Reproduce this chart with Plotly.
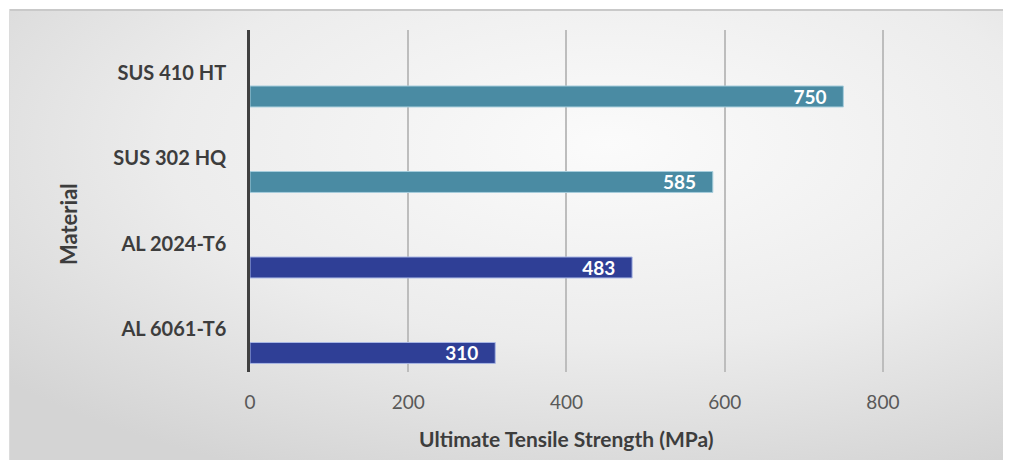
import base64
import plotly.graph_objects as go

# ---- data ----
materials = ["AL 6061-T6", "AL 2024-T6", "SUS 302 HQ", "SUS 410 HT"]
strength_mpa = [310, 483, 585, 750]
bar_colors = ["#2f3f96", "#2f3f96", "#4a8ba3", "#4a8ba3"]
bar_edge_colors = ["#a8b6e4", "#a8b6e4", "#a6cddc", "#a6cddc"]
x_ticks = [0, 200, 400, 600, 800]
x_title = "Ultimate Tensile Strength (MPa)"
y_title = "Material"

# ---- layout geometry (figure coords; page adds an 8px body margin) ----
OFF = 8
W, H = 1000, 452
ML, MR, MT, MB = 250 - OFF, 46, 30 - OFF, 88
PW = W - ML - MR
PH = H - MT - MB

def px_to_paper_x(px):
    # px given in screen coordinates
    return (px - OFF - ML) / PW

def px_to_paper_y(py):
    return (H - MB - (py - OFF)) / PH

FONT = "Lato, 'Open Sans', sans-serif"
TXT = "#3d3d3d"

fig = go.Figure()
fig.add_trace(go.Bar(
    x=strength_mpa,
    y=materials,
    orientation="h",
    width=0.245,
    offset=-0.40,
    marker=dict(color=bar_colors, line=dict(color=bar_edge_colors, width=1)),
    text=strength_mpa,
    texttemplate="%{x}\u00a0\u00a0\u00a0",
    textposition="inside",
    insidetextanchor="end",
    constraintext="none",
    textfont=dict(family=FONT, size=19, color="white", weight="bold"),
    showlegend=False,
    hoverinfo="x+y",
))

# background gradient (decoration), screen coords
bx0, by0, bx1, by1 = 9, 9, 1008, 460
bw, bh = bx1 - bx0, by1 - by0
svg = (
    f"<svg xmlns='http://www.w3.org/2000/svg' width='{bw}' height='{bh}' preserveAspectRatio='none'>"
    "<defs><radialGradient id='g' cx='0.6' cy='0.3' r='0.8'>"
    "<stop offset='0' stop-color='#fbfbfb'/>"
    "<stop offset='0.55' stop-color='#ececec'/>"
    "<stop offset='1' stop-color='#d4d4d4'/>"
    "</radialGradient></defs>"
    f"<rect width='{bw}' height='{bh}' fill='url(#g)'/>"
    f"<rect width='{bw}' height='2' fill='#c9c9c9'/>"
    f"<rect width='1' height='{bh}' fill='#dcdcdc'/>"
    "</svg>"
)
src = "data:image/svg+xml;base64," + base64.b64encode(svg.encode()).decode()

fig.update_layout(
    width=W, height=H,
    margin=dict(l=ML, r=MR, t=MT, b=MB),
    paper_bgcolor="white",
    plot_bgcolor="rgba(0,0,0,0)",
    images=[dict(
        source=src, xref="paper", yref="paper",
        x=px_to_paper_x(bx0), y=px_to_paper_y(by0),
        sizex=bw / PW, sizey=bh / PH,
        xanchor="left", yanchor="top", sizing="stretch", layer="below",
    )],
    xaxis=dict(
        range=[0, 900],
        tickvals=x_ticks,
        showgrid=True, gridcolor="#bdbdbd", gridwidth=1.5,
        zeroline=False, showline=False,
        tickfont=dict(family=FONT, size=19, color="#595959"),
        ticks="", ticklabelstandoff=17,
    ),
    yaxis=dict(
        categoryorder="array", categoryarray=materials,
        showgrid=False, zeroline=False,
        showline=True, linecolor="#404040", linewidth=2.5,
        ticks="", ticklabelstandoff=17,
        tickfont=dict(family=FONT, size=20, color=TXT, weight="bold"),
    ),
    annotations=[
        dict(text=x_title, xref="paper", yref="paper",
             x=px_to_paper_x(566), y=px_to_paper_y(438),
             xanchor="center", yanchor="middle", showarrow=False,
             font=dict(family=FONT, size=21, color=TXT, weight="bold")),
        dict(text=y_title, xref="paper", yref="paper",
             x=px_to_paper_x(68), y=px_to_paper_y(224),
             xanchor="center", yanchor="middle", showarrow=False, textangle=-90,
             font=dict(family=FONT, size=22, color=TXT, weight="bold")),
    ],
)

fig.write_html("out.html")
